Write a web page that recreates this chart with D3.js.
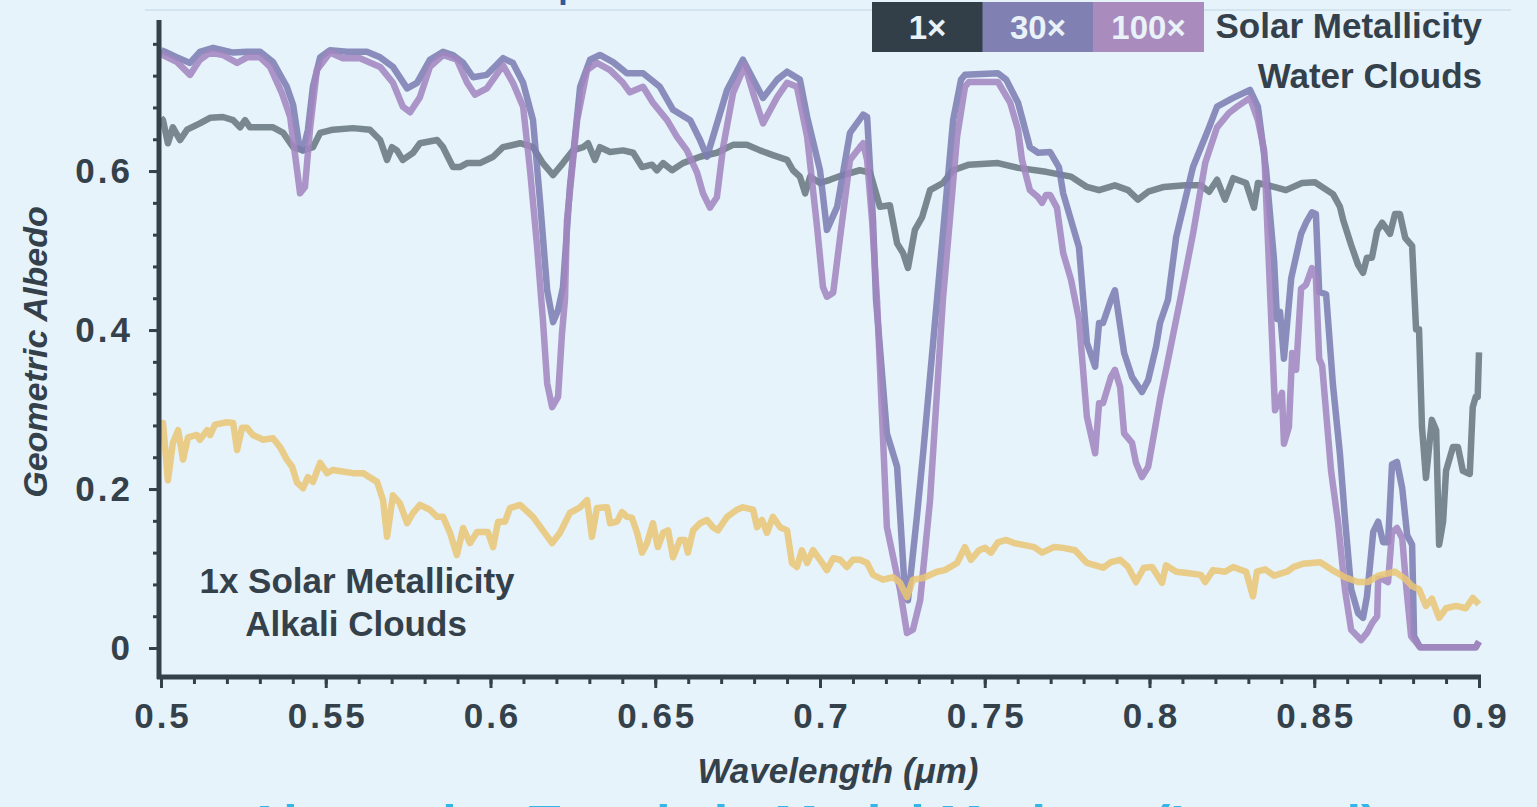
<!DOCTYPE html>
<html>
<head>
<meta charset="utf-8">
<script src="https://cdnjs.cloudflare.com/ajax/libs/d3/7.8.5/d3.min.js"></script>
<style>
  body { margin: 0; background: #e6f3fb; overflow: hidden; }
  svg { font-family: "Liberation Sans", Arial, sans-serif; font-weight: bold; }
  .axis path, .axis line { stroke: #34414a; }
  .axis text { fill: #34414a; }
</style>
</head>
<body>
<script>

// wavelength (um), geometric albedo
var water1x = [[0.5000,0.667],[0.5006,0.664],[0.5021,0.635],[0.5036,0.655],[0.5058,0.639],[0.5079,0.652],[0.5118,0.660],[0.5149,0.667],[0.5188,0.668],[0.5219,0.664],[0.5240,0.655],[0.5255,0.664],[0.5270,0.655],[0.5301,0.655],[0.5340,0.655],[0.5371,0.648],[0.5401,0.630],[0.5431,0.626],[0.5461,0.630],[0.5483,0.648],[0.5522,0.652],[0.5583,0.654],[0.5634,0.652],[0.5665,0.639],[0.5686,0.614],[0.5701,0.630],[0.5716,0.626],[0.5734,0.614],[0.5765,0.623],[0.5786,0.635],[0.5838,0.639],[0.5856,0.630],[0.5886,0.605],[0.5907,0.605],[0.5929,0.610],[0.5968,0.610],[0.6008,0.618],[0.6038,0.630],[0.6090,0.635],[0.6129,0.630],[0.6159,0.610],[0.6190,0.595],[0.6220,0.610],[0.6250,0.626],[0.6281,0.630],[0.6296,0.635],[0.6317,0.614],[0.6332,0.630],[0.6363,0.624],[0.6402,0.626],[0.6433,0.623],[0.6460,0.605],[0.6490,0.608],[0.6505,0.601],[0.6524,0.610],[0.6551,0.601],[0.6584,0.610],[0.6636,0.618],[0.6687,0.623],[0.6736,0.633],[0.6778,0.633],[0.6818,0.626],[0.6857,0.620],[0.6900,0.614],[0.6918,0.601],[0.6939,0.593],[0.6955,0.572],[0.6970,0.593],[0.7000,0.585],[0.7030,0.589],[0.7070,0.595],[0.7121,0.601],[0.7152,0.598],[0.7182,0.555],[0.7212,0.557],[0.7234,0.509],[0.7252,0.497],[0.7267,0.478],[0.7288,0.526],[0.7310,0.542],[0.7334,0.576],[0.7373,0.585],[0.7404,0.601],[0.7452,0.608],[0.7540,0.610],[0.7601,0.604],[0.7686,0.599],[0.7762,0.593],[0.7810,0.580],[0.7847,0.576],[0.7895,0.582],[0.7935,0.576],[0.7965,0.564],[0.7996,0.574],[0.8044,0.580],[0.8108,0.582],[0.8156,0.582],[0.8181,0.574],[0.8205,0.589],[0.8229,0.564],[0.8254,0.591],[0.8293,0.585],[0.8317,0.554],[0.8329,0.585],[0.8378,0.580],[0.8414,0.576],[0.8463,0.585],[0.8502,0.586],[0.8557,0.571],[0.8578,0.555],[0.8588,0.538],[0.8612,0.507],[0.8633,0.482],[0.8648,0.472],[0.8660,0.491],[0.8675,0.491],[0.8691,0.525],[0.8706,0.535],[0.8730,0.521],[0.8745,0.546],[0.8760,0.546],[0.8776,0.516],[0.8797,0.506],[0.8809,0.401],[0.8818,0.401],[0.8827,0.278],[0.8839,0.214],[0.8857,0.287],[0.8870,0.274],[0.8879,0.130],[0.8891,0.159],[0.8900,0.223],[0.8921,0.253],[0.8936,0.253],[0.8951,0.223],[0.8972,0.219],[0.8981,0.303],[0.8990,0.316],[0.8996,0.316],[0.9000,0.372]];

var water30x = [[0.5000,0.752],[0.5012,0.750],[0.5049,0.743],[0.5088,0.736],[0.5118,0.750],[0.5158,0.755],[0.5219,0.749],[0.5261,0.750],[0.5301,0.750],[0.5340,0.737],[0.5382,0.706],[0.5401,0.683],[0.5419,0.633],[0.5431,0.626],[0.5446,0.652],[0.5461,0.706],[0.5483,0.743],[0.5513,0.752],[0.5565,0.750],[0.5625,0.750],[0.5665,0.743],[0.5704,0.731],[0.5747,0.704],[0.5777,0.711],[0.5816,0.740],[0.5856,0.750],[0.5886,0.746],[0.5917,0.736],[0.5947,0.718],[0.5989,0.721],[0.6038,0.742],[0.6068,0.736],[0.6099,0.711],[0.6129,0.664],[0.6150,0.564],[0.6172,0.450],[0.6190,0.410],[0.6205,0.425],[0.6220,0.454],[0.6241,0.580],[0.6272,0.706],[0.6302,0.740],[0.6332,0.746],[0.6372,0.737],[0.6414,0.723],[0.6433,0.723],[0.6463,0.723],[0.6514,0.706],[0.6554,0.677],[0.6606,0.664],[0.6636,0.639],[0.6657,0.618],[0.6718,0.702],[0.6766,0.740],[0.6809,0.706],[0.6827,0.692],[0.6870,0.715],[0.6900,0.725],[0.6939,0.715],[0.6961,0.668],[0.7000,0.601],[0.7021,0.526],[0.7052,0.555],[0.7091,0.648],[0.7131,0.671],[0.7143,0.668],[0.7161,0.538],[0.7170,0.438],[0.7203,0.270],[0.7234,0.228],[0.7258,0.069],[0.7267,0.060],[0.7294,0.165],[0.7313,0.245],[0.7355,0.438],[0.7404,0.664],[0.7428,0.715],[0.7440,0.721],[0.7540,0.723],[0.7565,0.715],[0.7601,0.686],[0.7637,0.630],[0.7662,0.623],[0.7698,0.624],[0.7725,0.605],[0.7738,0.572],[0.7762,0.538],[0.7786,0.504],[0.7810,0.384],[0.7835,0.354],[0.7847,0.409],[0.7859,0.409],[0.7883,0.438],[0.7895,0.450],[0.7923,0.371],[0.7947,0.341],[0.7977,0.322],[0.7996,0.337],[0.8020,0.379],[0.8032,0.409],[0.8056,0.438],[0.8081,0.517],[0.8132,0.605],[0.8181,0.655],[0.8205,0.681],[0.8254,0.692],[0.8305,0.702],[0.8329,0.681],[0.8354,0.601],[0.8378,0.488],[0.8387,0.414],[0.8396,0.423],[0.8408,0.364],[0.8430,0.465],[0.8460,0.521],[0.8475,0.535],[0.8493,0.548],[0.8505,0.546],[0.8515,0.448],[0.8536,0.445],[0.8557,0.330],[0.8578,0.244],[0.8593,0.164],[0.8612,0.074],[0.8633,0.044],[0.8648,0.038],[0.8660,0.065],[0.8679,0.146],[0.8694,0.159],[0.8709,0.133],[0.8724,0.133],[0.8736,0.231],[0.8751,0.234],[0.8767,0.201],[0.8782,0.142],[0.8797,0.130],[0.8803,0.015],[0.8821,0.001],[0.8990,0.001],[0.9000,0.008]];

var water100x = [[0.5000,0.749],[0.5006,0.746],[0.5049,0.737],[0.5088,0.721],[0.5118,0.740],[0.5149,0.749],[0.5188,0.746],[0.5231,0.736],[0.5261,0.743],[0.5301,0.743],[0.5331,0.731],[0.5367,0.698],[0.5392,0.668],[0.5413,0.601],[0.5422,0.572],[0.5437,0.580],[0.5452,0.652],[0.5473,0.727],[0.5513,0.749],[0.5552,0.742],[0.5604,0.742],[0.5665,0.731],[0.5704,0.711],[0.5734,0.681],[0.5756,0.674],[0.5786,0.693],[0.5816,0.731],[0.5856,0.746],[0.5898,0.740],[0.5929,0.711],[0.5953,0.696],[0.5989,0.704],[0.6038,0.733],[0.6068,0.711],[0.6099,0.681],[0.6120,0.601],[0.6141,0.507],[0.6159,0.413],[0.6172,0.333],[0.6187,0.303],[0.6205,0.316],[0.6217,0.396],[0.6226,0.438],[0.6232,0.538],[0.6263,0.664],[0.6293,0.727],[0.6323,0.736],[0.6363,0.727],[0.6402,0.711],[0.6423,0.699],[0.6463,0.706],[0.6493,0.686],[0.6536,0.664],[0.6566,0.643],[0.6596,0.626],[0.6627,0.598],[0.6645,0.572],[0.6666,0.554],[0.6687,0.567],[0.6706,0.630],[0.6736,0.698],[0.6772,0.733],[0.6797,0.698],[0.6827,0.660],[0.6870,0.693],[0.6900,0.711],[0.6930,0.706],[0.6961,0.643],[0.6991,0.530],[0.7009,0.454],[0.7021,0.442],[0.7040,0.447],[0.7061,0.517],[0.7091,0.614],[0.7121,0.630],[0.7131,0.635],[0.7143,0.614],[0.7158,0.538],[0.7173,0.438],[0.7203,0.152],[0.7243,0.073],[0.7264,0.019],[0.7282,0.023],[0.7304,0.060],[0.7334,0.186],[0.7373,0.438],[0.7416,0.643],[0.7440,0.706],[0.7452,0.712],[0.7540,0.712],[0.7577,0.686],[0.7601,0.652],[0.7613,0.614],[0.7637,0.576],[0.7662,0.567],[0.7674,0.560],[0.7686,0.570],[0.7698,0.570],[0.7719,0.554],[0.7738,0.497],[0.7762,0.463],[0.7786,0.413],[0.7810,0.291],[0.7835,0.245],[0.7847,0.308],[0.7859,0.308],[0.7883,0.341],[0.7895,0.350],[0.7911,0.328],[0.7923,0.270],[0.7947,0.258],[0.7959,0.233],[0.7977,0.215],[0.7996,0.228],[0.8014,0.270],[0.8032,0.313],[0.8056,0.362],[0.8093,0.438],[0.8132,0.521],[0.8169,0.610],[0.8205,0.655],[0.8241,0.673],[0.8266,0.681],[0.8305,0.692],[0.8329,0.664],[0.8348,0.626],[0.8381,0.299],[0.8402,0.321],[0.8408,0.257],[0.8423,0.278],[0.8433,0.371],[0.8445,0.350],[0.8460,0.452],[0.8475,0.457],[0.8493,0.478],[0.8505,0.465],[0.8515,0.364],[0.8524,0.355],[0.8551,0.223],[0.8572,0.159],[0.8593,0.074],[0.8612,0.023],[0.8642,0.010],[0.8660,0.019],[0.8675,0.031],[0.8691,0.040],[0.8694,0.087],[0.8706,0.087],[0.8724,0.083],[0.8736,0.146],[0.8751,0.151],[0.8767,0.138],[0.8779,0.078],[0.8794,0.015],[0.8821,0.001],[0.8990,0.001],[0.9000,0.008]];

var alkali1x = [[0.5000,0.283],[0.5006,0.283],[0.5021,0.211],[0.5036,0.258],[0.5052,0.274],[0.5067,0.237],[0.5082,0.265],[0.5109,0.268],[0.5118,0.262],[0.5140,0.274],[0.5149,0.268],[0.5164,0.281],[0.5200,0.284],[0.5219,0.283],[0.5231,0.249],[0.5246,0.277],[0.5261,0.277],[0.5279,0.268],[0.5310,0.262],[0.5340,0.264],[0.5361,0.253],[0.5382,0.237],[0.5398,0.228],[0.5413,0.208],[0.5431,0.201],[0.5446,0.215],[0.5461,0.209],[0.5483,0.233],[0.5504,0.220],[0.5522,0.224],[0.5583,0.220],[0.5613,0.220],[0.5656,0.209],[0.5674,0.186],[0.5686,0.140],[0.5704,0.192],[0.5725,0.182],[0.5747,0.157],[0.5765,0.170],[0.5786,0.180],[0.5816,0.174],[0.5838,0.165],[0.5856,0.165],[0.5877,0.145],[0.5898,0.117],[0.5917,0.151],[0.5938,0.132],[0.5959,0.146],[0.5992,0.146],[0.6008,0.127],[0.6023,0.159],[0.6044,0.159],[0.6059,0.176],[0.6090,0.180],[0.6129,0.165],[0.6159,0.148],[0.6187,0.132],[0.6211,0.145],[0.6241,0.170],[0.6272,0.177],[0.6293,0.186],[0.6308,0.140],[0.6323,0.176],[0.6354,0.177],[0.6363,0.157],[0.6384,0.159],[0.6399,0.171],[0.6414,0.165],[0.6429,0.164],[0.6445,0.145],[0.6460,0.120],[0.6475,0.132],[0.6493,0.157],[0.6508,0.127],[0.6524,0.145],[0.6539,0.148],[0.6554,0.114],[0.6575,0.136],[0.6590,0.136],[0.6599,0.120],[0.6615,0.148],[0.6636,0.157],[0.6657,0.161],[0.6675,0.152],[0.6690,0.148],[0.6718,0.165],[0.6748,0.174],[0.6766,0.177],[0.6797,0.174],[0.6809,0.152],[0.6824,0.161],[0.6839,0.145],[0.6857,0.165],[0.6879,0.152],[0.6900,0.148],[0.6915,0.107],[0.6930,0.102],[0.6945,0.123],[0.6961,0.107],[0.6979,0.123],[0.7000,0.111],[0.7021,0.098],[0.7040,0.113],[0.7061,0.111],[0.7082,0.102],[0.7100,0.111],[0.7121,0.111],[0.7143,0.107],[0.7161,0.092],[0.7191,0.086],[0.7222,0.089],[0.7243,0.082],[0.7264,0.064],[0.7282,0.086],[0.7313,0.088],[0.7355,0.096],[0.7379,0.098],[0.7416,0.107],[0.7440,0.127],[0.7458,0.111],[0.7483,0.123],[0.7501,0.126],[0.7519,0.120],[0.7540,0.133],[0.7565,0.136],[0.7589,0.132],[0.7613,0.130],[0.7650,0.127],[0.7674,0.120],[0.7710,0.127],[0.7738,0.126],[0.7774,0.123],[0.7810,0.107],[0.7859,0.101],[0.7883,0.108],[0.7911,0.111],[0.7935,0.102],[0.7959,0.083],[0.7983,0.101],[0.8008,0.102],[0.8038,0.082],[0.8050,0.104],[0.8081,0.096],[0.8120,0.094],[0.8156,0.092],[0.8169,0.083],[0.8193,0.098],[0.8229,0.096],[0.8254,0.102],[0.8293,0.096],[0.8314,0.065],[0.8326,0.096],[0.8351,0.099],[0.8378,0.091],[0.8417,0.096],[0.8438,0.102],[0.8466,0.106],[0.8518,0.108],[0.8551,0.099],[0.8593,0.089],[0.8633,0.083],[0.8663,0.083],[0.8694,0.091],[0.8724,0.094],[0.8745,0.096],[0.8776,0.087],[0.8797,0.078],[0.8818,0.074],[0.8839,0.053],[0.8857,0.062],[0.8879,0.038],[0.8900,0.050],[0.8930,0.053],[0.8960,0.050],[0.8981,0.063],[0.9000,0.055]];

var xTicks = [0.5, 0.55, 0.6, 0.65, 0.7, 0.75, 0.8, 0.85, 0.9];
var xLabels = ["0.5", "0.55", "0.6", "0.65", "0.7", "0.75", "0.8", "0.85", "0.9"];
var yTicks = [0, 0.2, 0.4, 0.6];
var yLabels = ["0", "0.2", "0.4", "0.6"];
var legendLabels = ["1×", "30×", "100×"];

var W = 1537, H = 807;
var ink = "#34414a";

var svg = d3.select("body").append("svg")
    .attr("width", W)
    .attr("height", H);

var x = d3.scaleLinear().domain([0.5, 0.9]).range([161, 1479]);
var y = d3.scaleLinear().domain([-0.0377, 0.79]).range([678, 20]);

// title sits above the frame, only its descender shows
svg.append("text")
    .attr("x", 428).attr("y", -2)
    .attr("font-size", 34)
    .attr("fill", "#2d5a9a")
    .text("Model Spectra");

svg.append("line")
    .attr("x1", 145).attr("x2", 1511)
    .attr("y1", 10).attr("y2", 10)
    .attr("stroke", "#cddfea").attr("stroke-width", 1.5);

// series
var line = d3.line()
    .x(function(d) { return x(d[0]); })
    .y(function(d) { return y(d[1]); });

var series = [
  {data: water1x, color: "#687880"},
  {data: water30x, color: "#7c7db2"},
  {data: water100x, color: "#a285bf"},
  {data: alkali1x, color: "#e9c676"}
];

svg.append("g").selectAll("path")
    .data(series)
  .enter().append("path")
    .attr("d", function(d) { return line(d.data); })
    .attr("fill", "none")
    .attr("stroke", function(d) { return d.color; })
    .attr("stroke-width", 6.5)
    .attr("stroke-opacity", 0.87)
    .attr("stroke-linejoin", "round");

// axes
var minorX = d3.range(0, 41).map(function(i) { return 0.5 + i * 0.01; });
var minorY = d3.range(0, 20).map(function(i) { return i * 0.04; });

svg.append("g")
    .attr("class", "axis")
    .attr("transform", "translate(0,677)")
    .call(d3.axisBottom(x).tickValues(minorX).tickSize(7).tickSizeOuter(0).tickFormat(""))
    .call(function(g) {
      g.select(".domain").attr("stroke-width", 5).attr("d", "M157,0H1481");
      g.selectAll(".tick line").attr("stroke-width", 3);
    });

svg.append("g")
    .attr("class", "axis")
    .attr("transform", "translate(0,677)")
    .call(d3.axisBottom(x).tickValues(xTicks).tickSize(11).tickPadding(15)
        .tickFormat(function(d, i) { return xLabels[i]; }))
    .call(function(g) {
      g.select(".domain").remove();
      g.selectAll(".tick line").attr("stroke-width", 3);
      g.selectAll("text").attr("font-size", 35).attr("font-family", "Liberation Sans")
          .attr("font-weight", "bold").attr("letter-spacing", 3).attr("dx", 1.5);
    });

svg.append("g")
    .attr("class", "axis")
    .attr("transform", "translate(159,0)")
    .call(d3.axisLeft(y).tickValues(minorY).tickSize(6).tickSizeOuter(0).tickFormat(""))
    .call(function(g) {
      g.select(".domain").attr("stroke-width", 5).attr("d", "M0,20V679");
      g.selectAll(".tick line").attr("stroke-width", 3);
    });

svg.append("g")
    .attr("class", "axis")
    .attr("transform", "translate(159,0)")
    .call(d3.axisLeft(y).tickValues(yTicks).tickSize(10).tickPadding(16)
        .tickFormat(function(d, i) { return yLabels[i]; }))
    .call(function(g) {
      g.select(".domain").remove();
      g.selectAll(".tick line").attr("stroke-width", 3);
      g.selectAll("text").attr("font-size", 35).attr("font-family", "Liberation Sans")
          .attr("font-weight", "bold").attr("letter-spacing", 3);
    });

// axis titles
svg.append("text")
    .attr("x", 838).attr("y", 783)
    .attr("text-anchor", "middle")
    .attr("font-size", 35)
    .attr("font-style", "italic")
    .attr("fill", ink)
    .text("Wavelength (μm)");

svg.append("text")
    .attr("transform", "translate(47,352) rotate(-90)")
    .attr("text-anchor", "middle")
    .attr("font-size", 34)
    .attr("font-style", "italic")
    .attr("fill", ink)
    .text("Geometric Albedo");

// legend boxes
var boxColors = ["#333f48", "#8080b2", "#a98bbd"];
var legend = svg.append("g").selectAll("g")
    .data(legendLabels)
  .enter().append("g")
    .attr("transform", function(d, i) { return "translate(" + (872 + i * 110.5) + ",2)"; });

legend.append("rect")
    .attr("width", 111).attr("height", 50)
    .attr("fill", function(d, i) { return boxColors[i]; });

legend.append("text")
    .attr("x", 55.5).attr("y", 37)
    .attr("text-anchor", "middle")
    .attr("font-size", 33)
    .attr("fill", "#e8f2f8")
    .text(function(d) { return d; });

svg.append("text")
    .attr("x", 1482).attr("y", 38)
    .attr("text-anchor", "end")
    .attr("font-size", 35)
    .attr("fill", ink)
    .text("Solar Metallicity");

svg.append("text")
    .attr("x", 1482).attr("y", 88)
    .attr("text-anchor", "end")
    .attr("font-size", 35)
    .attr("fill", ink)
    .text("Water Clouds");

// alkali annotation
svg.append("text")
    .attr("x", 357).attr("y", 593)
    .attr("text-anchor", "middle")
    .attr("font-size", 35)
    .attr("fill", ink)
    .text("1x Solar Metallicity");

svg.append("text")
    .attr("x", 356).attr("y", 636)
    .attr("text-anchor", "middle")
    .attr("font-size", 35)
    .attr("fill", ink)
    .text("Alkali Clouds");

// caption below the frame, only its top shows
svg.append("text")
    .attr("x", 812).attr("y", 842)
    .attr("text-anchor", "middle")
    .attr("font-size", 52)
    .attr("fill", "#35b6e8")
    .text("Alternative Trends in Model Markers (Ignored)");

</script>
</body>
</html>
